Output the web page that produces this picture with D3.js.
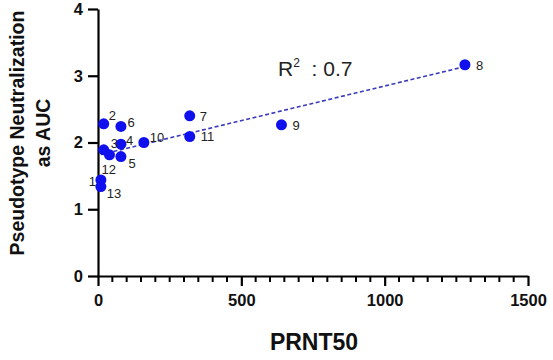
<!DOCTYPE html>
<html>
<head>
<meta charset="utf-8">
<script src="https://cdn.jsdelivr.net/npm/d3@7"></script>
<style>
  html, body { margin: 0; padding: 0; background: #fff; }
  svg { display: block; font-family: "Liberation Sans", Arial, sans-serif; }
</style>
</head>
<body>
<svg id="chart" width="553" height="360"></svg>
<script>
// ---- data ----
const sampleIds = [1, 2, 3, 4, 5, 6, 7, 8, 9, 10, 11, 12, 13];
const prnt50 = [10, 20, 20, 80, 80, 80, 320, 1280, 640, 160, 320, 40, 10];
const aucValues = [1.44, 2.28, 1.89, 1.975, 1.79, 2.24, 2.40, 3.165, 2.265, 2.00, 2.09, 1.815, 1.34];
const xTicks = [0, 500, 1000, 1500];
const yTicks = [0, 1, 2, 3, 4];
const xTitle = "PRNT50";
const yTitleLines = ["Pseudotype Neutralization", "as AUC"];
const r2Text = "0.7";

// label placement (offsets in px, per sample id)
const labelOffset = {
  1: [-12, 6], 2: [5, -4], 3: [7, -2], 4: [5, 1], 5: [7.5, 11.5], 6: [6.5, 1],
  7: [10, 5.5], 8: [11, 5], 9: [11, 5], 10: [6, -0.5], 11: [11, 5], 12: [-8, 19], 13: [6, 11.5]
};

const svg = d3.select("#chart");
const margin = { left: 98, right: 25, top: 9, bottom: 84 };
const W = 553, H = 360;
const x = d3.scaleLinear().domain([0, 1500]).range([margin.left, W - margin.right]);
const y = d3.scaleLinear().domain([0, 4]).range([H - margin.bottom, margin.top]);

const points = sampleIds.map((id, i) => ({ id, x: prnt50[i], y: aucValues[i] }));

// regression line (least squares)
const mx = d3.mean(points, d => d.x), my = d3.mean(points, d => d.y);
const sxy = d3.sum(points, d => (d.x - mx) * (d.y - my));
const sxx = d3.sum(points, d => (d.x - mx) ** 2);
const slope = sxy / sxx, intercept = my - slope * mx;
const [x0, x1] = d3.extent(points, d => d.x);

svg.append("line")
  .attr("x1", x(x0)).attr("y1", y(intercept + slope * x0))
  .attr("x2", x(x1)).attr("y2", y(intercept + slope * x1))
  .attr("stroke", "#3b3bbb").attr("stroke-width", 1.6)
  .attr("stroke-dasharray", "4,2.5");

// axes
const xAxis = d3.axisBottom(x).tickValues(xTicks).tickSizeInner(10).tickSizeOuter(0).tickFormat(d3.format("d"));
const gx = svg.append("g").attr("transform", `translate(0,${y(0)})`).call(xAxis);
const minor = d3.range(50, 1500, 50).filter(v => v % 500 !== 0);
gx.selectAll(".minor").data(minor).enter().append("line")
  .attr("class", "minor")
  .attr("x1", d => x(d)).attr("x2", d => x(d))
  .attr("y1", 0).attr("y2", 6)
  .attr("stroke", "#000").attr("stroke-width", 2);

const yAxis = d3.axisLeft(y).tickValues(yTicks).tickSizeInner(10).tickSizeOuter(0).tickFormat(d3.format("d"));
const gy = svg.append("g").attr("transform", `translate(${x(0)},0)`).call(yAxis);

[gx, gy].forEach(g => {
  g.select(".domain").attr("stroke", "#000").attr("stroke-width", 2.2);
  g.selectAll(".tick line").attr("stroke", "#000").attr("stroke-width", 2.2);
  g.selectAll(".tick text")
    .attr("fill", "#111")
    .style("font-size", "16.5px").style("font-weight", "bold")
    .style("font-family", '"Liberation Sans", Arial, sans-serif');
});
gx.selectAll(".tick text").attr("y", 18);
gy.selectAll(".tick text").attr("x", -15);

// axis titles
svg.append("text")
  .attr("x", (x(0) + x(1500)) / 2 + 1).attr("y", 350)
  .attr("text-anchor", "middle")
  .style("font-size", "23px").style("font-weight", "bold")
  .attr("fill", "#111")
  .text(xTitle);

const yt = svg.append("text")
  .attr("transform", `translate(24,133) rotate(-90)`)
  .attr("text-anchor", "middle")
  .style("font-size", "19.5px").style("font-weight", "bold")
  .attr("fill", "#111");
yTitleLines.forEach((t, i) => {
  yt.append("tspan").attr("x", 0).attr("dy", i === 0 ? 0 : 25.5).text(t);
});

// points
svg.append("g").selectAll("circle").data(points).enter().append("circle")
  .attr("cx", d => x(d.x)).attr("cy", d => y(d.y)).attr("r", 5.5)
  .attr("fill", "#1010ee");

// point labels
svg.append("g").selectAll("text").data(points).enter().append("text")
  .attr("x", d => x(d.x) + labelOffset[d.id][0])
  .attr("y", d => y(d.y) + labelOffset[d.id][1])
  .style("font-size", "13px").attr("fill", "#222")
  .text(d => d.id);

// R² annotation
const rt = svg.append("text").attr("x", 278).attr("y", 76)
  .style("font-size", "21px").style("white-space", "pre").attr("fill", "#222");
rt.append("tspan").text("R");
rt.append("tspan").attr("dy", -9).style("font-size", "12px").text("2");
rt.append("tspan").attr("dy", 9).text("  : " + r2Text);
</script>
</body>
</html>
